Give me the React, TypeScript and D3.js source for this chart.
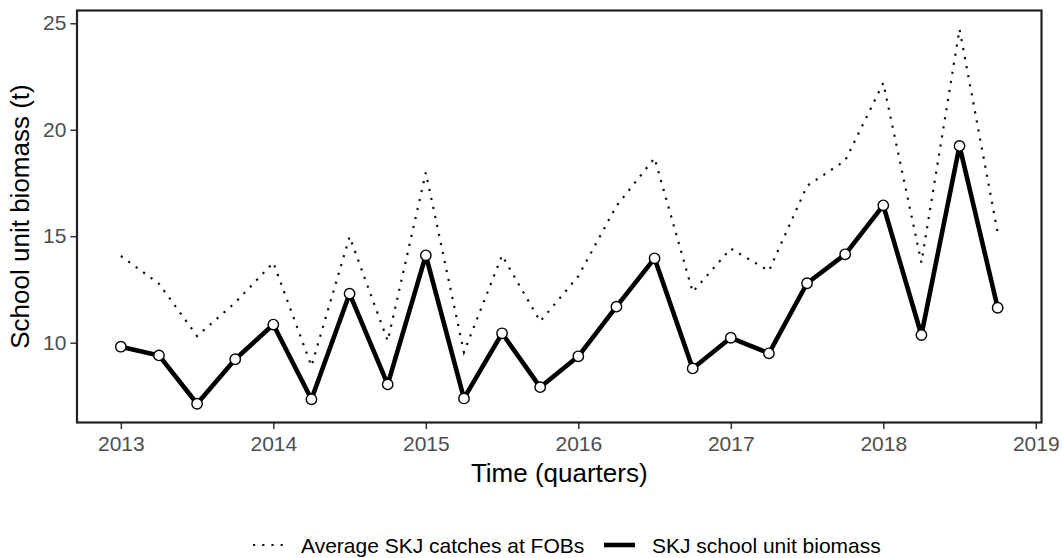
import React, { useRef, useEffect } from 'react';
import * as d3 from 'd3';

// quarters, as decimal years
const quarters = [
  2013, 2013.25, 2013.5, 2013.75, 2014, 2014.25, 2014.5, 2014.75,
  2015, 2015.25, 2015.5, 2015.75, 2016, 2016.25, 2016.5, 2016.75,
  2017, 2017.25, 2017.5, 2017.75, 2018, 2018.25, 2018.5, 2018.75,
];

const schoolBiomass = [
  9.81, 9.4, 7.13, 9.22, 10.85, 7.34, 12.3, 8.04,
  14.1, 7.38, 10.44, 7.91, 9.36, 11.69, 13.96, 8.79,
  10.23, 9.5, 12.79, 14.15, 16.45, 10.36, 19.24, 11.64,
];

const fobCatches = [
  14.07, 12.77, 10.31, 11.88, 13.76, 8.9, 14.98, 10.08,
  17.99, 9.55, 14.1, 11.0, 13.12, 16.42, 18.67, 12.38,
  14.42, 13.37, 17.36, 18.55, 22.2, 13.76, 24.72, 15.17,
];

const xTicks = [2013, 2014, 2015, 2016, 2017, 2018, 2019];
const yTicks = [10, 15, 20, 25];

const legendLabels = ['Average SKJ catches at FOBs', 'SKJ school unit biomass'];

const FONT = '"Liberation Sans", Arial, Helvetica, sans-serif';

const Chart = () => {
  const ref = useRef<SVGSVGElement | null>(null);
  const width = 1062;
  const height = 558;
  const panel = { left: 77, right: 1041.5, top: 10.5, bottom: 422.5 };

  useEffect(() => {
    if (!ref.current) {
      return;
    }
    const svg = d3.select(ref.current);
    svg.selectAll('*').remove();

    // ggplot style 5% expansion
    const xExt = d3.extent(quarters) as [number, number];
    const xPad = (xExt[1] - xExt[0]) * 0.05;
    const allY = [...schoolBiomass, ...fobCatches];
    const yMin = d3.min(allY) as number;
    const yMax = d3.max(allY) as number;
    const yPad = (yMax - yMin) * 0.05;

    const x = d3
      .scaleLinear()
      .domain([xExt[0] - xPad, xExt[1] + xPad])
      .range([panel.left, panel.right]);
    const y = d3
      .scaleLinear()
      .domain([yMin - yPad, yMax + yPad])
      .range([panel.bottom, panel.top]);

    const line = d3
      .line<number>()
      .x((_, i) => x(quarters[i]))
      .y((d) => y(d));

    // dotted series
    svg
      .append('path')
      .datum(fobCatches)
      .attr('fill', 'none')
      .attr('stroke', '#111')
      .attr('stroke-width', 2.2)
      .attr('stroke-dasharray', '2.2 7')
      .attr('d', line);

    // solid series
    svg
      .append('path')
      .datum(schoolBiomass)
      .attr('fill', 'none')
      .attr('stroke', '#000')
      .attr('stroke-width', 4.6)
      .attr('stroke-linejoin', 'round')
      .attr('d', line);

    svg
      .selectAll('.dot')
      .data(schoolBiomass)
      .join('circle')
      .attr('class', 'dot')
      .attr('cx', (_, i) => x(quarters[i]))
      .attr('cy', (d) => y(d))
      .attr('r', 5.2)
      .attr('fill', '#fff')
      .attr('stroke', '#000')
      .attr('stroke-width', 1.4);

    // x axis
    const xAxis = d3
      .axisBottom(x)
      .tickValues(xTicks)
      .tickFormat(d3.format('d'))
      .tickSize(6.6)
      .tickPadding(6);
    svg
      .append('g')
      .attr('transform', `translate(0,${panel.bottom})`)
      .call(xAxis)
      .call((g) => g.select('.domain').remove())
      .call((g) => g.selectAll('.tick line').attr('stroke', '#333').attr('stroke-width', 1.5))
      .call((g) =>
        g
          .selectAll('.tick text')
          .attr('fill', '#4d4d4d')
          .attr('font-size', 21)
          .attr('font-family', FONT)
          .attr('dy', '0.75em'),
      );

    // y axis
    const yAxis = d3.axisLeft(y).tickValues(yTicks).tickSize(6.6).tickPadding(4);
    svg
      .append('g')
      .attr('transform', `translate(${panel.left},0)`)
      .call(yAxis)
      .call((g) => g.select('.domain').remove())
      .call((g) => g.selectAll('.tick line').attr('stroke', '#333').attr('stroke-width', 1.5))
      .call((g) =>
        g
          .selectAll('.tick text')
          .attr('fill', '#4d4d4d')
          .attr('font-size', 21)
          .attr('font-family', FONT),
      );

    // panel border
    svg
      .append('rect')
      .attr('x', panel.left)
      .attr('y', panel.top)
      .attr('width', panel.right - panel.left)
      .attr('height', panel.bottom - panel.top)
      .attr('fill', 'none')
      .attr('stroke', '#222')
      .attr('stroke-width', 2.2);

    // axis titles
    svg
      .append('text')
      .attr('x', (panel.left + panel.right) / 2)
      .attr('y', 482)
      .attr('text-anchor', 'middle')
      .attr('font-size', 26)
      .attr('font-family', FONT)
      .attr('fill', '#000')
      .text('Time (quarters)');

    svg
      .append('text')
      .attr('transform', `translate(29,${(panel.top + panel.bottom) / 2}) rotate(-90)`)
      .attr('text-anchor', 'middle')
      .attr('font-size', 26)
      .attr('font-family', FONT)
      .attr('fill', '#000')
      .text('School unit biomass (t)');

    // legend
    const legY = 545;
    const leg = svg.append('g').attr('font-family', FONT).attr('font-size', 21);
    leg
      .append('line')
      .attr('x1', 253)
      .attr('x2', 284)
      .attr('y1', legY)
      .attr('y2', legY)
      .attr('stroke', '#111')
      .attr('stroke-width', 2.2)
      .attr('stroke-dasharray', '2.2 7');
    leg
      .append('text')
      .attr('x', 301)
      .attr('y', 553)
      .attr('fill', '#000')
      .text(legendLabels[0]);
    leg
      .append('line')
      .attr('x1', 604)
      .attr('x2', 635)
      .attr('y1', legY)
      .attr('y2', legY)
      .attr('stroke', '#000')
      .attr('stroke-width', 4.6);
    leg
      .append('text')
      .attr('x', 652)
      .attr('y', 553)
      .attr('fill', '#000')
      .text(legendLabels[1]);
  }, []);

  return (
    <svg
      ref={ref}
      width={width}
      height={height}
      style={{ position: 'absolute', left: 0, top: 0, background: '#fff' }}
    />
  );
};

export default function App() {
  return <Chart />;
}
